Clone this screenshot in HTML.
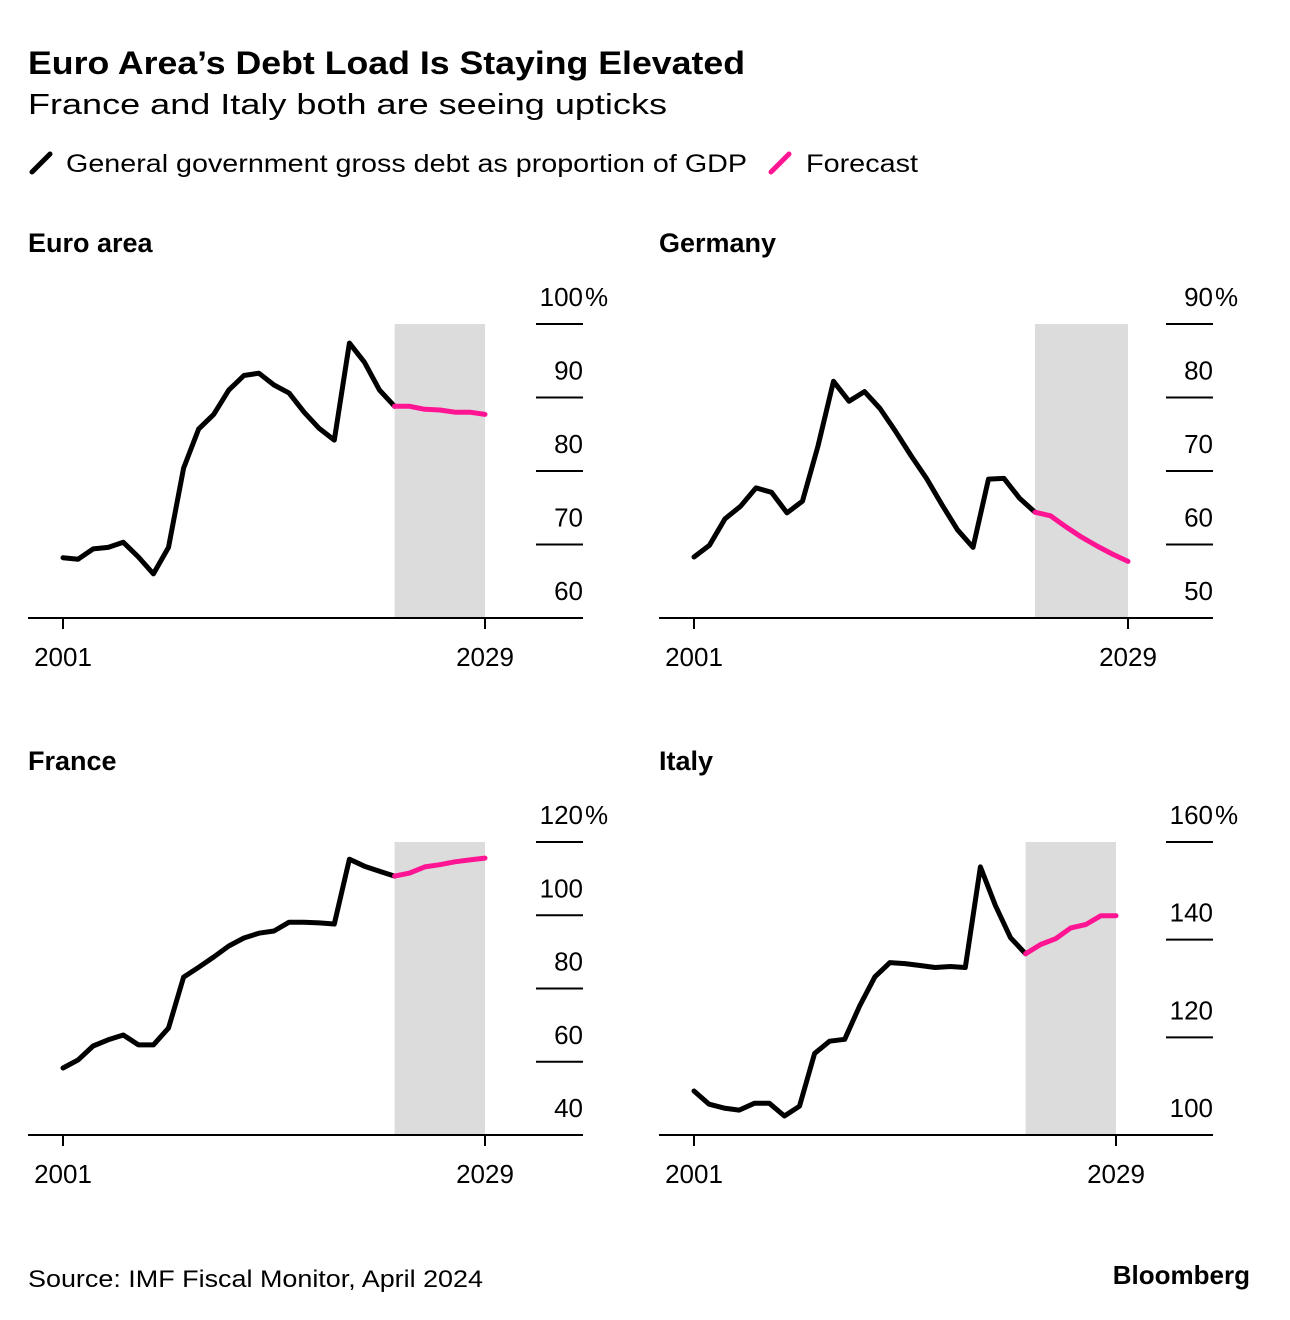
<!DOCTYPE html>
<html><head><meta charset="utf-8"><style>
html,body{margin:0;padding:0;background:#fff;}
svg{display:block;font-family:"Liberation Sans",Arial,sans-serif;}
</style></head><body>
<svg id="c" width="1290" height="1320" viewBox="0 0 1290 1320" xmlns="http://www.w3.org/2000/svg">
<text x="28" y="74" font-size="32" font-weight="bold" fill="#000" textLength="717" lengthAdjust="spacingAndGlyphs">Euro Area’s Debt Load Is Staying Elevated</text>
<text x="28" y="114" font-size="29" fill="#000" textLength="639" lengthAdjust="spacingAndGlyphs">France and Italy both are seeing upticks</text>
<g>
<line x1="32" y1="172" x2="50" y2="154" stroke="#000" stroke-width="5" stroke-linecap="round"/>
<text x="66" y="172" font-size="25" textLength="681" lengthAdjust="spacingAndGlyphs">General government gross debt as proportion of GDP</text>
<line x1="771" y1="172" x2="789" y2="154" stroke="#ff1493" stroke-width="5" stroke-linecap="round"/>
<text x="806" y="172" font-size="25" textLength="112" lengthAdjust="spacingAndGlyphs">Forecast</text>
</g>
<text x="28" y="1287" font-size="24" textLength="455" lengthAdjust="spacingAndGlyphs">Source: IMF Fiscal Monitor, April 2024</text>
<text x="1250" y="1284" font-size="26" font-weight="bold" text-anchor="end">Bloomberg</text>
</svg>
<script>
const years = [2001,2002,2003,2004,2005,2006,2007,2008,2009,2010,2011,2012,2013,2014,2015,2016,2017,2018,2019,2020,2021,2022,2023,2024,2025,2026,2027,2028,2029];
const forecastStart = 2023;
const euroValues = [68.2,68.0,69.4,69.6,70.3,68.3,66.0,69.6,80.4,85.7,87.7,91.0,93.0,93.3,91.7,90.6,88.0,85.8,84.2,97.4,94.8,91.0,88.8,88.8,88.4,88.3,88.0,88.0,87.7];
const germanyValues = [58.3,59.9,63.5,65.2,67.7,67.1,64.3,65.9,73.4,82.2,79.5,80.8,78.5,75.4,72.1,69.0,65.4,62.0,59.6,68.9,69.0,66.3,64.4,63.9,62.4,61.0,59.8,58.7,57.7];
const franceValues = [58.3,60.5,64.3,66.0,67.3,64.6,64.6,69.2,83.1,85.8,88.6,91.6,93.8,95.1,95.7,98.1,98.1,97.9,97.6,115.3,113.4,112.0,110.7,111.5,113.2,113.8,114.6,115.1,115.6];
const italyValues = [109.0,106.3,105.5,105.1,106.5,106.5,103.9,105.9,116.7,119.2,119.6,126.5,132.4,135.3,135.1,134.7,134.3,134.5,134.3,154.9,147.0,140.4,137.1,139.0,140.2,142.4,143.1,144.9,144.9];
const euroTicks = [60,70,80,90,100];
const germanyTicks = [50,60,70,80,90];
const franceTicks = [40,60,80,100,120];
const italyTicks = [100,120,140,160];
const xLabels = [2001,2029];

const NS="http://www.w3.org/2000/svg";
const svg=document.getElementById('c');
function mk(tag,attrs,parent){const e=document.createElementNS(NS,tag);for(const k in attrs)e.setAttribute(k,attrs[k]);(parent||svg).appendChild(e);return e;}

function panel(name,title,values,ticks,o){
  const g=mk('g',{});
  
  
  const x=v=>o.x0+(v-years[0])/(years[years.length-1]-years[0])*(o.x1-o.x0);
  const yMin=ticks[0], yMax=ticks[ticks.length-1];
  const y=v=>o.yb-(v-yMin)/(yMax-yMin)*(o.yb-o.yt);
  const t=mk('text',{x:o.left,y:o.yt-72,'font-size':27,'font-weight':'bold'},g);t.textContent=title;
  
  
  const sh=mk('rect',{x:x(forecastStart),y:y(yMax),width:x(years[years.length-1])-x(forecastStart),height:y(yMin)-y(yMax),fill:'#dcdcdc'},g);
  
  
  ticks.forEach((tv,i)=>{
    if(i>0){const l=mk('line',{x1:o.right-47,x2:o.right,y1:y(tv),y2:y(tv),stroke:'#000','stroke-width':2},g);
      
      }
    const lb=mk('text',{x:o.right,y:y(tv)-18,'font-size':26,'text-anchor':'end'},g);lb.textContent=tv;
    
    
    if(i===ticks.length-1){const p=mk('text',{x:o.right+2,y:y(tv)-18,'font-size':26},g);p.textContent='%';
      
      }
  });
  const base=mk('line',{x1:o.left,x2:o.right,y1:o.yb,y2:o.yb,stroke:'#000','stroke-width':2},g);
  
  
  xLabels.forEach(yr=>{
    const tk=mk('line',{x1:x(yr),x2:x(yr),y1:o.yb,y2:o.yb+11,stroke:'#000','stroke-width':2},g);
    
    
    const lb=mk('text',{x:x(yr),y:o.yb+48,'font-size':26,'text-anchor':'middle'},g);lb.textContent=yr;
    
    
  });
  const fi=years.indexOf(forecastStart);
  const pts=(a,b)=>years.slice(a,b).map((yr,i)=>x(yr).toFixed(1)+','+y(values[a+i]).toFixed(1)).join(' ');
  const l1=mk('polyline',{points:pts(0,fi+1),fill:'none',stroke:'#000','stroke-width':5,'stroke-linejoin':'round','stroke-linecap':'round'},g);
  
  
  const l2=mk('polyline',{points:pts(fi,years.length),fill:'none',stroke:'#ff1493','stroke-width':5,'stroke-linejoin':'round','stroke-linecap':'round'},g);
  
  
}
panel('euro-area','Euro area',euroValues,euroTicks,{left:28,right:583,x0:63,x1:485,yt:324,yb:618});
panel('germany','Germany',germanyValues,germanyTicks,{left:659,right:1213,x0:694,x1:1128,yt:324,yb:618});
panel('france','France',franceValues,franceTicks,{left:28,right:583,x0:63,x1:485,yt:842,yb:1135});
panel('italy','Italy',italyValues,italyTicks,{left:659,right:1213,x0:694,x1:1116,yt:842,yb:1135});
</script>
</body></html>
